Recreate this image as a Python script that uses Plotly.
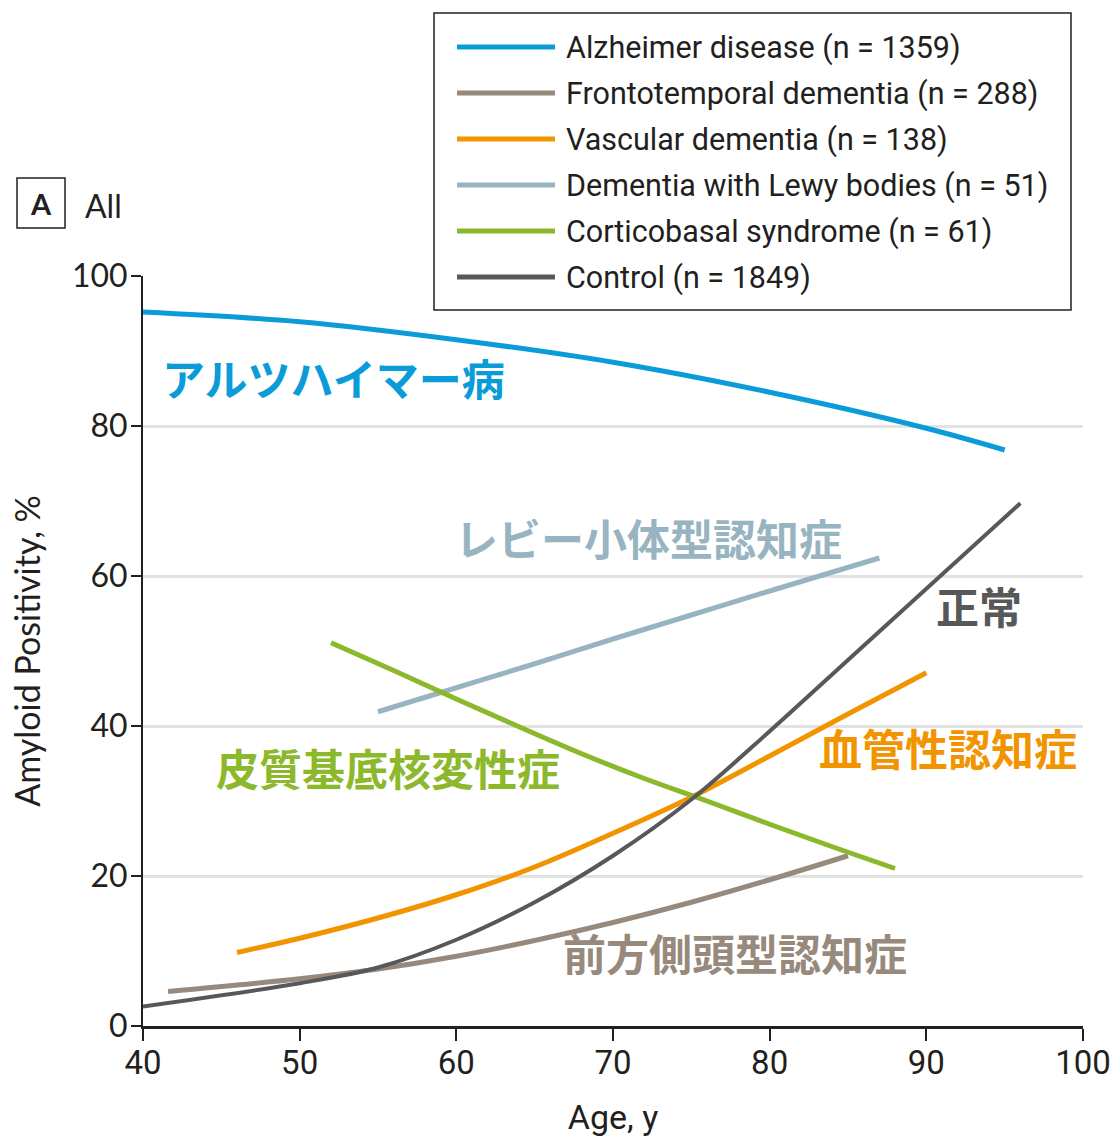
import plotly.graph_objects as go

# Amyloid positivity (%) by age for each clinical group
age_ad = [40, 50, 60, 70, 80, 90, 95]
pos_ad = [95.2, 93.9, 91.5, 88.5, 84.5, 79.7, 76.8]

age_ftd = [41.6, 50, 55, 60, 65, 70, 75, 80, 85]
pos_ftd = [4.6, 6.3, 7.6, 9.3, 11.4, 13.8, 16.5, 19.5, 22.7]

age_vad = [46, 50, 55, 60, 65, 70, 75, 80, 85, 90]
pos_vad = [9.8, 11.7, 14.4, 17.5, 21.2, 25.7, 30.5, 36.0, 41.6, 47.1]

age_dlb = [55, 60, 65, 70, 75, 80, 87]
pos_dlb = [41.9, 45.1, 48.3, 51.6, 54.8, 58.0, 62.4]

age_cbs = [52, 56, 60, 64, 68, 72, 76, 80, 84, 88]
pos_cbs = [51.1, 47.4, 43.6, 39.9, 36.3, 33.0, 30.0, 26.9, 23.9, 21.0]

age_ctl = [40, 50, 55, 60, 65, 70, 75, 80, 85, 90, 96]
pos_ctl = [2.6, 5.7, 7.8, 11.5, 16.5, 22.7, 30.2, 39.3, 48.8, 58.3, 69.7]

legend_labels = [
    "Alzheimer disease (n = 1359)",
    "Frontotemporal dementia (n = 288)",
    "Vascular dementia (n = 138)",
    "Dementia with Lewy bodies (n = 51)",
    "Corticobasal syndrome (n = 61)",
    "Control (n = 1849)",
]
jp_labels = ["アルツハイマー病", "前方側頭型認知症", "血管性認知症",
             "レビー小体型認知症", "皮質基底核変性症", "正常"]
colors = ["#0a9cd8", "#978a7c", "#f29400", "#98b4c1", "#8cb82b", "#58585a"]
widths = [5, 5, 5, 5, 5, 4]

x_ticks = [40, 50, 60, 70, 80, 90, 100]
y_ticks = [0, 20, 40, 60, 80, 100]

# where each Japanese label sits (age, positivity), left-anchored
jp_pos = [(41.1, 86.6), (66.7, 9.9), (83.0, 37.25), (59.8, 65.25), (44.5, 34.6), (90.5, 56.2)]

series = [(age_ad, pos_ad), (age_ftd, pos_ftd), (age_vad, pos_vad),
          (age_dlb, pos_dlb), (age_cbs, pos_cbs), (age_ctl, pos_ctl)]

COND = "Roboto, sans-serif"
REG = "Lato, Open Sans, sans-serif"
JP = "Noto Sans CJK JP"
INK = "#231f20"

fig = go.Figure()
for (xs, ys), name, c, w in zip(series, legend_labels, colors, widths):
    fig.add_trace(go.Scatter(x=xs, y=ys, mode="lines", name=name,
                             line=dict(color=c, width=w, shape="spline", smoothing=1.0)))

# plot-area geometry in pixels, used to place the legend and panel tag
L, R, T, B = 143, 1083, 276, 1026
def px(p):
    return (p - L) / (R - L)
def py(p):
    return (B - p) / (B - T)

shapes = []
annotations = []

# legend frame
shapes.append(dict(type="rect", xref="paper", yref="paper",
                   x0=px(434), x1=px(1071), y0=py(310), y1=py(13),
                   line=dict(color=INK, width=1.5), fillcolor="white", layer="above"))
row_y = [47, 93, 139, 185, 231, 277]
for ry, name, c in zip(row_y, legend_labels, colors):
    shapes.append(dict(type="line", xref="paper", yref="paper",
                       x0=px(457), x1=px(555), y0=py(ry), y1=py(ry),
                       line=dict(color=c, width=5), layer="above"))
    annotations.append(dict(xref="paper", yref="paper", x=px(564), y=py(ry + 1),
                            text=name, showarrow=False, xanchor="left", yanchor="middle",
                            font=dict(family=COND, size=30.5, color=INK)))

# panel tag
shapes.append(dict(type="rect", xref="paper", yref="paper",
                   x0=px(17), x1=px(65), y0=py(228), y1=py(178),
                   line=dict(color=INK, width=1.5), fillcolor="white", layer="above"))
annotations.append(dict(xref="paper", yref="paper", x=px(41), y=py(204), text="<b>A</b>",
                        showarrow=False, xanchor="center", yanchor="middle",
                        font=dict(family=REG, size=29, color=INK)))
annotations.append(dict(xref="paper", yref="paper", x=px(83), y=py(205), text="All",
                        showarrow=False, xanchor="left", yanchor="middle",
                        font=dict(family=REG, size=32, color=INK)))

# Japanese group labels
for (ax, ay), t, c in zip(jp_pos, jp_labels, colors):
    annotations.append(dict(x=ax, y=ay, xref="x", yref="y", text="<b>" + t + "</b>",
                            showarrow=False, xanchor="left", yanchor="middle",
                            font=dict(family=JP, size=43, color=c)))

fig.update_layout(
    width=1112, height=1137,
    margin=dict(l=L, r=1112 - R, t=T, b=1137 - B, autoexpand=False),
    plot_bgcolor="white", paper_bgcolor="white",
    showlegend=False,
    shapes=shapes, annotations=annotations,
    xaxis=dict(range=[40, 100], tickvals=x_ticks, showgrid=False, zeroline=False,
               automargin=False,
               showline=True, linecolor=INK, linewidth=3,
               ticks="outside", ticklen=12, tickwidth=2, tickcolor=INK,
               ticklabeloverflow="allow", ticklabelstandoff=-7,
               tickfont=dict(family=COND, size=33, color=INK),
               title=dict(text="Age, y", font=dict(family=COND, size=34, color=INK), standoff=31)),
    yaxis=dict(range=[0, 100], tickvals=y_ticks, showgrid=True, gridcolor="#e2e2e2", gridwidth=3,
               zeroline=False, automargin=False,
               showline=True, linecolor=INK, linewidth=2,
               ticks="outside", ticklen=10, tickwidth=2, tickcolor=INK,
               ticklabelstandoff=-3,
               tickfont=dict(family=REG, size=32, color=INK),
               title=dict(text="Amyloid Positivity, %", font=dict(family=REG, size=34, color=INK), standoff=21)),
)

fig.write_html("out.html")
